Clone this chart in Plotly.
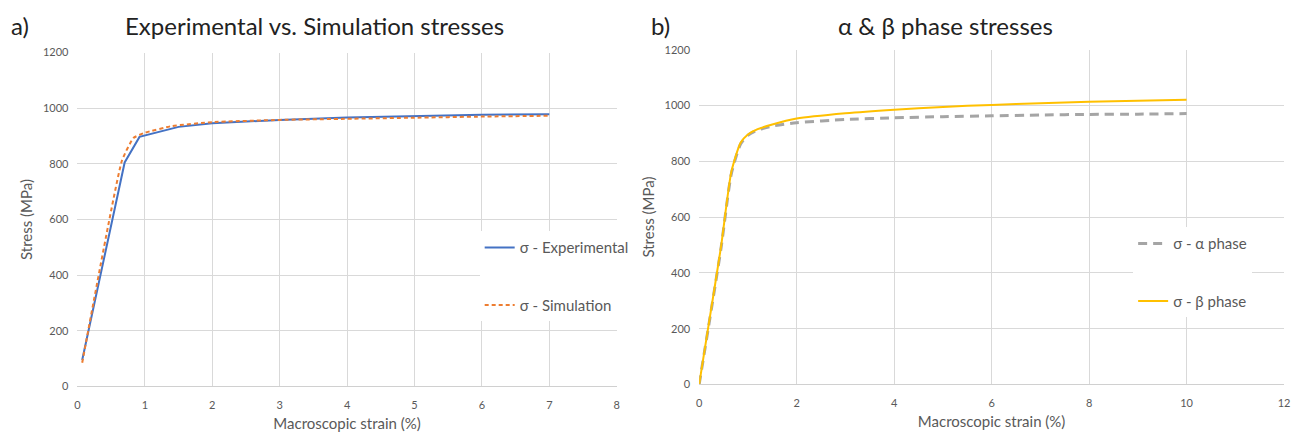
import plotly.graph_objects as go

# ---- data ----
exp_strain = [0.07, 0.7, 0.92, 1.5, 2, 3, 4, 5, 6, 7]
exp_stress = [95, 805, 897, 933, 946, 958, 967, 973, 977, 978]

sim_strain = [0.07, 0.66, 0.83, 1.0, 1.4, 2, 3, 4, 5, 6, 7]
sim_stress = [85, 812, 893, 912, 936, 950, 958, 962, 966, 970, 973]

ph_strain = [0, 0.2, 0.45, 0.66, 0.85, 1.0, 1.2, 1.5, 2, 3, 4, 5, 6, 7, 8, 9, 10]
alpha_stress = [0, 215, 490, 755, 862, 893, 912, 926, 938, 950, 956, 960, 963, 966, 968, 969, 971]
beta_stress = [0, 220, 495, 762, 866, 896, 915, 932, 953, 972, 985, 995, 1002, 1008, 1013, 1017, 1021]

FONT = "Lato"
TXT = "#595959"
GRID = "#D9D9D9"

fig = go.Figure()
fig.add_trace(go.Scatter(x=exp_strain, y=exp_stress, mode="lines", name="σ - Experimental",
                         line=dict(color="#4472C4", width=2), xaxis="x", yaxis="y",
                         legend="legend", legendgroup="a1"))
fig.add_trace(go.Scatter(x=sim_strain, y=sim_stress, mode="lines", name="σ - Simulation",
                         line=dict(color="#ED7D31", width=2, dash="4px,3px", shape="spline", smoothing=0.4),
                         xaxis="x", yaxis="y", legend="legend", legendgroup="a2"))
fig.add_trace(go.Scatter(x=ph_strain, y=alpha_stress, mode="lines", name="σ - α phase",
                         line=dict(color="#A5A5A5", width=3, dash="9px,6px", shape="spline", smoothing=0.6),
                         xaxis="x2", yaxis="y2", legend="legend2", legendgroup="b1"))
fig.add_trace(go.Scatter(x=ph_strain, y=beta_stress, mode="lines", name="σ - β phase",
                         line=dict(color="#FFC000", width=2, shape="spline", smoothing=0.6),
                         xaxis="x2", yaxis="y2", legend="legend2", legendgroup="b2"))

W, H = 1302, 438
def px(x):
    return x / W
def py(y):
    return 1 - y / H

axis_common = dict(showgrid=True, gridcolor=GRID, gridwidth=1, zeroline=False,
                   tickfont=dict(family=FONT, size=11, color=TXT), ticks="",
                   ticklabelstandoff=8,
                   title_font=dict(family=FONT, size=15, color=TXT))

fig.update_layout(
    width=W, height=H, margin=dict(l=0, r=0, t=0, b=0),
    paper_bgcolor="white", plot_bgcolor="white",
    font=dict(family=FONT, color=TXT),
    xaxis=dict(domain=[px(75), px(618)], range=[0, 8], dtick=1, anchor="y",
               showline=True, linecolor="#D0D0D0", linewidth=1,
               title=dict(text="Macroscopic strain (%)", standoff=8), **axis_common),
    yaxis=dict(domain=[py(391), py(47)], range=[0, 1200], dtick=200, anchor="x",
               title=dict(text="Stress (MPa)", standoff=6), **axis_common),
    xaxis2=dict(domain=[px(701), px(1290)], range=[0, 12], dtick=2, anchor="y2",
                showline=True, linecolor="#D0D0D0", linewidth=1,
                title=dict(text="Macroscopic strain (%)", standoff=8), **axis_common),
    yaxis2=dict(domain=[py(389), py(44)], range=[0, 1200], dtick=200, anchor="x2",
                title=dict(text="Stress (MPa)", standoff=6), **axis_common),
    legend=dict(x=px(480), y=py(231), xanchor="left", yanchor="top", bgcolor="white",
                font=dict(family=FONT, size=15, color=TXT), tracegroupgap=35, itemwidth=30),
    legend2=dict(x=px(1138), y=py(227), xanchor="left", yanchor="top", bgcolor="white",
                 font=dict(family=FONT, size=15, color=TXT), tracegroupgap=35, itemwidth=30),
    annotations=[
        dict(text="a)", x=px(6), y=py(19), xref="paper", yref="paper", xanchor="left", yanchor="middle",
             showarrow=False, font=dict(family=FONT, size=24, color="#222222")),
        dict(text="Experimental vs. Simulation stresses", x=px(314), y=py(19), xref="paper", yref="paper",
             xanchor="center", yanchor="middle", showarrow=False, font=dict(family=FONT, size=24, color="#222222")),
        dict(text="b)", x=px(650), y=py(19), xref="paper", yref="paper", xanchor="left", yanchor="middle",
             showarrow=False, font=dict(family=FONT, size=24, color="#222222")),
        dict(text="α &amp; β phase stresses", x=px(949), y=py(19), xref="paper", yref="paper",
             xanchor="center", yanchor="middle", showarrow=False, font=dict(family=FONT, size=24, color="#222222")),
    ],
)

fig.write_html("out.html")
